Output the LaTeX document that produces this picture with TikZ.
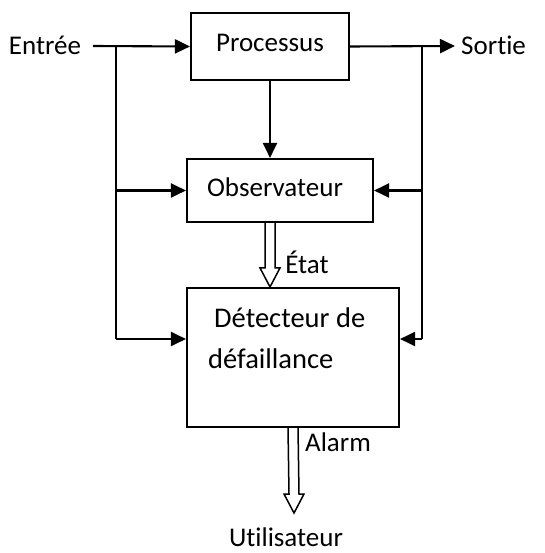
\documentclass[tikz,border=0pt]{standalone}
\usepackage{fontspec}
\setmainfont[RawFeature={-liga;-dlig;-clig}]{Carlito}
\usetikzlibrary{arrows.meta,calc}
\tikzset{
  box/.style={draw, line width=2.1pt, inner sep=0pt},
  conn/.style={line width=2.1pt},
  arr/.style={conn, -{Triangle[length=15pt,width=14pt]}},
  dbl/.style={draw, line width=1.5pt, line join=miter},
  lbl/.style={inner sep=0pt, font=\fontsize{27}{32}\selectfont},
}
\newcommand\hollowarrow[2]{%
  \draw[dbl] ($(#1)+(-5,0)$) -- ($(#2)+(-5,-19)$) -- ($(#2)+(-10,-19)$) -- (#2)
    -- ($(#2)+(10,-19)$) -- ($(#2)+(5,-19)$) -- ($(#1)+(5,0)$);}
\begin{document}
\begin{tikzpicture}[x=1pt,y=-1pt]
\useasboundingbox (0,0) rectangle (544,553);
% boxes
\node[box, minimum width=158pt, minimum height=67pt] (proc) at (270,46.5) {};
\node[lbl] (proct) at (270,43) {Processus};
\node[box, minimum width=186pt, minimum height=63pt] (obs) at (280,190.5) {};
\node[lbl] (obst) at (275,187) {Observateur};
\node[box, minimum width=212pt, minimum height=139pt] (det) at (293,357.5) {};
\node[lbl, anchor=base west, font=\fontsize{28.5}{32}\selectfont] (dt1) at (214,327) {Détecteur de};
\node[lbl, anchor=base west, font=\fontsize{28.5}{32}\selectfont] (dt2) at (208,368) {défaillance};
% labels
\node[lbl] (entree) at (45,45) {Entrée};
\node[lbl, anchor=west] (sortie) at (461,45) {Sortie};
\node[lbl] (etat) at (307,262) {État};
\node[lbl] (alarm) at (338,442) {Alarm};
\node[lbl, anchor=base] (util) at (286,546) {Utilisateur};
% coordinates
\coordinate (in) at (93,46);
\coordinate (jl) at (116,46);
\coordinate (jr) at (422,46);
\coordinate (out) at (455,46);
\coordinate (dl) at (116,339);
\coordinate (dr) at (422,339);
\coordinate (ut) at (294,513);
% connectors
\draw[arr] (in) -- (proc.west);
\draw[arr] (proc.east) -- (out);
\draw[conn] (jl) -- (dl);
\draw[conn] (jr) -- (dr);
\draw[arr] (jl |- obs.west) -- (obs.west);
\draw[arr] (jr |- obs.east) -- (obs.east);
\draw[arr] (dl) -- (dl -| det.west);
\draw[arr] (dr) -- (dr -| det.east);
\draw[arr] (proc.south) -- (proc.south |- obs.north);
\coordinate (e1) at (obs.south -| proc.south);
\coordinate (e2) at (det.north -| proc.south);
\hollowarrow{e1}{e2}
\coordinate (a1) at (det.south);
\hollowarrow{a1}{ut}
\end{tikzpicture}
\end{document}
